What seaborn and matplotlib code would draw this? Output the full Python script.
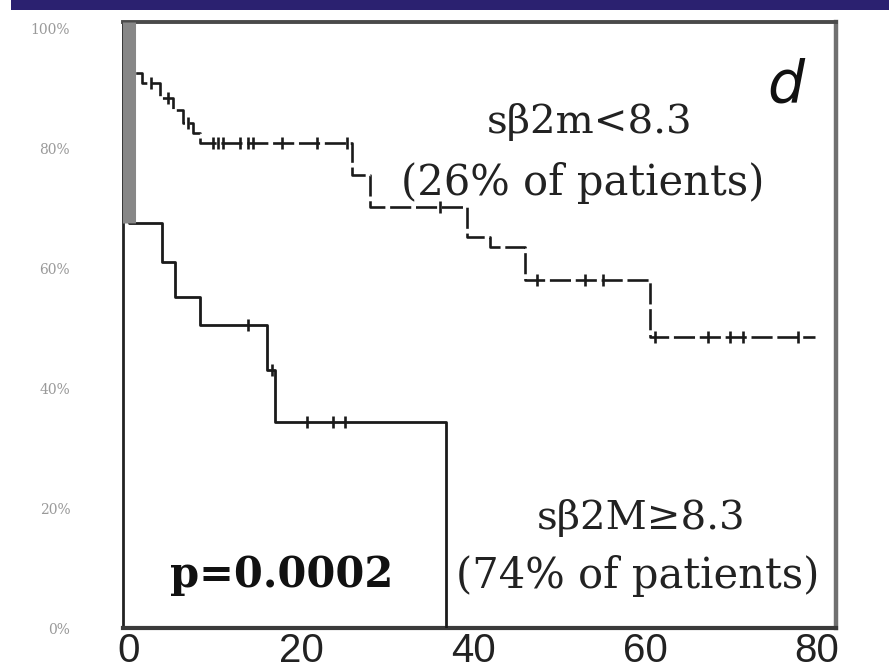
import numpy as np
import matplotlib
matplotlib.use("Agg")
import matplotlib.pyplot as plt
from matplotlib.patches import Rectangle
import seaborn as sns

# ---- data ----
# high sβ2M group (solid line)
hi_time = [0, 0, 3.8, 5.3, 8.3, 16.0, 17.0, 36.9]
hi_surv = [100, 67.5, 61.0, 55.2, 50.5, 43.0, 34.3, 0]
hi_censor = [13.8, 16.6, 20.7, 23.7, 25.1]

# low sβ2m group (dashed line)
low_time = [0, 0, 1.5, 3.6, 5.1, 6.3, 7.4, 8.3, 25.9, 28.0, 39.3, 42.0, 46.0, 60.6, 79.8]
low_surv = [100, 92.5, 90.8, 88.3, 86.3, 84.2, 82.5, 80.8, 75.5, 70.2, 65.2, 63.5, 58.0, 48.5, 48.5]
low_censor = [2.6, 4.5, 6.8, 9.8, 10.3, 10.9, 12.9, 13.8, 14.4, 17.8, 21.9, 25.3,
              36.2, 47.4, 53.0, 55.1, 61.2, 67.3, 69.9, 71.4, 77.8]

x_ticks = [0, 20, 40, 60, 80]
y_ticks = [0, 20, 40, 60, 80, 100]
y_tick_labels = ["0%", "20%", "40%", "60%", "80%", "100%"]

low_label = "sβ2m<8.3"
low_share = "(26% of patients)"
hi_label = "sβ2M≥8.3"
hi_share = "(74% of patients)"
p_text = "p=0.0002"
panel = "d"


def surv_at(times, surv, t):
    times = np.asarray(times)
    surv = np.asarray(surv)
    idx = np.searchsorted(times, t, side="right") - 1
    return surv[idx]


sns.set_theme(style="white")
plt.rcParams["font.family"] = ["DejaVu Sans"]

fig = plt.figure(figsize=(8.89, 6.71), dpi=100)
ax = fig.add_axes([123 / 889, 1 - 628 / 671, (836 - 123) / 889, (628 - 22) / 671])

ax.set_xlim(-0.7, 82.2)
ax.set_ylim(0, 101.0)

# curves
sns.lineplot(x=hi_time, y=hi_surv, ax=ax, drawstyle="steps-post", estimator=None,
             sort=False, color="#1a1a1a", lw=2.0, zorder=3)
sns.lineplot(x=low_time, y=low_surv, ax=ax, drawstyle="steps-post", estimator=None,
             sort=False, color="#1a1a1a", lw=1.9, ls=(0, (8, 1.8)), zorder=3)

# initial drop at time 0 (grey thick band drawn over the vertical start of both curves)
sns.lineplot(x=[hi_time[0], hi_time[1]], y=[hi_surv[1], 101.0], ax=ax,
             color="#878787", lw=9.4, solid_capstyle="butt", estimator=None,
             sort=False, zorder=3.5)

# censor marks
sns.scatterplot(x=hi_censor, y=surv_at(hi_time, hi_surv, hi_censor), ax=ax,
                marker="|", s=80, color="#1a1a1a", linewidth=1.9, zorder=4)
sns.scatterplot(x=low_censor, y=surv_at(low_time, low_surv, low_censor), ax=ax,
                marker="|", s=80, color="#1a1a1a", linewidth=1.9, zorder=4)

# ticks
ax.set_xticks(x_ticks)
ax.set_xticklabels([str(v) for v in x_ticks], fontsize=29, color="#222222",
                   family="Liberation Sans")
ax.set_yticks(y_ticks)
ax.set_yticklabels(y_tick_labels, fontsize=10, color="#9a9a9a", family="DejaVu Serif")
ax.tick_params(axis="x", length=0, pad=3)
ax.tick_params(axis="y", length=0, pad=38)
ax.set_xlabel("")
ax.set_ylabel("")

# spines
ax.spines["left"].set_color("#222222")
ax.spines["left"].set_linewidth(2.0)
ax.spines["bottom"].set_color("#3a3a3a")
ax.spines["bottom"].set_linewidth(3.0)
ax.spines["top"].set_color("#4a4a4a")
ax.spines["top"].set_linewidth(2.8)
ax.spines["right"].set_color("#707070")
ax.spines["right"].set_linewidth(3.2)

# texts
serif = "DejaVu Serif"
ax.text(0.655, 0.835, low_label, transform=ax.transAxes, ha="center", va="center",
        fontsize=29, family=serif, color="#222222")
ax.text(0.645, 0.735, low_share, transform=ax.transAxes, ha="center", va="center",
        fontsize=30, family=serif, color="#222222")
ax.text(0.727, 0.182, hi_label, transform=ax.transAxes, ha="center", va="center",
        fontsize=29, family=serif, color="#222222")
ax.text(0.722, 0.085, hi_share, transform=ax.transAxes, ha="center", va="center",
        fontsize=30, family=serif, color="#222222")
ax.text(0.222, 0.088, p_text, transform=ax.transAxes, ha="center", va="center",
        fontsize=30, family=serif, fontweight="bold", color="#111111")
ax.text(0.93, 0.895, panel, transform=ax.transAxes, ha="center", va="center",
        fontsize=42, family="DejaVu Sans", style="italic", color="#111111")

# slide header band
fig.add_artist(Rectangle((11 / 889, 1 - 10 / 671), 1, 10 / 671, transform=fig.transFigure,
                         color="#2b2170", lw=0, zorder=0))

fig.savefig("out.png", dpi=100)
